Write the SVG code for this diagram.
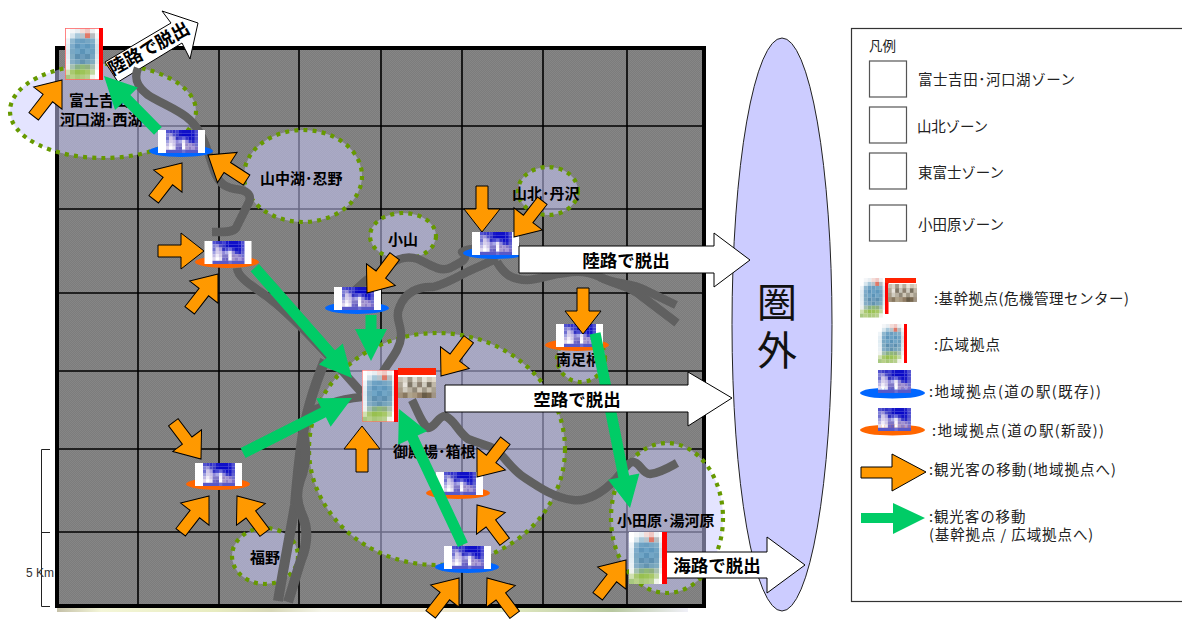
<svg xmlns="http://www.w3.org/2000/svg" xmlns:xlink="http://www.w3.org/1999/xlink" width="1182" height="619" viewBox="0 0 1182 619">
<style>
text{font-family:"Noto Sans CJK JP","Noto Sans",sans-serif;fill:#111}
.z{fill:#ccccff;fill-opacity:.52;stroke:#669900;stroke-width:4.2;stroke-dasharray:4 5.2}
.l{font-weight:700;font-size:15px;fill:#000}
.w{fill:#fff;stroke:#000;stroke-width:1}
.wt{font-weight:700;font-size:17.5px;fill:#000;text-anchor:middle}
.o{fill:#ff9900;stroke:#000;stroke-width:1}
.g{fill:#00cc66}
.r{fill:none;stroke:#606060;stroke-width:8.5;stroke-linejoin:round}
.r2{stroke-width:10}
.grid{stroke:#000;stroke-width:1.6}
.t{font-size:14.5px;fill:#222}
.box{fill:#fff;stroke:#555;stroke-width:1.2}
.eb{fill:#0066ff}.eo{fill:#ff6600}
</style>
<defs>
<pattern id="dither" width="2" height="2" patternUnits="userSpaceOnUse"><rect width="2" height="2" fill="#7c7c7c"/><rect width="1" height="1" fill="#868686"/><rect x="1" y="1" width="1" height="1" fill="#868686"/></pattern>
<linearGradient id="strip" x1="0" x2="1" y1="0" y2="0">
<stop offset="0" stop-color="#c4c0a8"/><stop offset=".07" stop-color="#f4f6d8"/><stop offset=".25" stop-color="#e8ecc0"/><stop offset=".34" stop-color="#d8d8b8"/><stop offset=".42" stop-color="#f4f4e8"/><stop offset=".6" stop-color="#f0e8d0"/><stop offset=".72" stop-color="#e0e8c0"/><stop offset=".88" stop-color="#b8c8a0"/><stop offset="1" stop-color="#f0f0f8"/>
</linearGradient>
<g id="mosaic">
<rect x="0" y="0" width="3.300" height="3.400" fill="#5050d0"/><rect x="3.200" y="0" width="3.300" height="3.400" fill="#4040c8"/><rect x="6.400" y="0" width="3.300" height="3.400" fill="#3030c8"/><rect x="9.600" y="0" width="3.300" height="3.400" fill="#4040d0"/><rect x="12.800" y="0" width="3.300" height="3.400" fill="#1818c8"/><rect x="16" y="0" width="9.700" height="3.400" fill="#1010c8"/><rect x="25.600" y="0" width="3.300" height="3.400" fill="#2020c8"/><rect x="28.800" y="0" width="3.200" height="3.400" fill="#5050d0"/>
<rect x="0" y="3.300" width="3.300" height="3.400" fill="#8080d8"/><rect x="3.200" y="3.300" width="3.300" height="3.400" fill="#9890d8"/><rect x="6.400" y="3.300" width="3.300" height="3.400" fill="#5050c8"/><rect x="9.600" y="3.300" width="3.300" height="3.400" fill="#3838c8"/><rect x="12.800" y="3.300" width="3.300" height="3.400" fill="#1010c0"/><rect x="16" y="3.300" width="9.700" height="3.400" fill="#0808c8"/><rect x="25.600" y="3.300" width="3.300" height="3.400" fill="#1010c8"/><rect x="28.800" y="3.300" width="3.200" height="3.400" fill="#4848d0"/>
<rect x="0" y="6.600" width="3.300" height="3.400" fill="#7070d0"/><rect x="3.200" y="6.600" width="3.300" height="3.400" fill="#d0c8e8"/><rect x="6.400" y="6.600" width="3.300" height="3.400" fill="#a8a0e0"/><rect x="9.600" y="6.600" width="3.300" height="3.400" fill="#3030c0"/><rect x="12.800" y="6.600" width="3.300" height="3.400" fill="#4848d0"/><rect x="16" y="6.600" width="3.300" height="3.400" fill="#6868d8"/><rect x="19.200" y="6.600" width="3.300" height="3.400" fill="#3030c8"/><rect x="22.400" y="6.600" width="3.300" height="3.400" fill="#1010c8"/><rect x="25.600" y="6.600" width="3.300" height="3.400" fill="#1818c8"/><rect x="28.800" y="6.600" width="3.200" height="3.400" fill="#5050d0"/>
<rect x="0" y="9.900" width="3.300" height="3.400" fill="#a0a0e0"/><rect x="3.200" y="9.900" width="3.300" height="3.400" fill="#d8d0ec"/><rect x="6.400" y="9.900" width="3.300" height="3.400" fill="#c8c0e8"/><rect x="9.600" y="9.900" width="3.300" height="3.400" fill="#9088d8"/><rect x="12.800" y="9.900" width="3.300" height="3.400" fill="#a8a8e8"/><rect x="16" y="9.900" width="3.300" height="3.400" fill="#e8e4f4"/><rect x="19.200" y="9.900" width="3.300" height="3.400" fill="#9088d8"/><rect x="22.400" y="9.900" width="3.300" height="3.400" fill="#4040c8"/><rect x="25.600" y="9.900" width="3.300" height="3.400" fill="#2828c8"/><rect x="28.800" y="9.900" width="3.200" height="3.400" fill="#6060d0"/>
<rect x="0" y="13.200" width="3.300" height="3.400" fill="#c0b8e4"/><rect x="3.200" y="13.200" width="3.300" height="3.400" fill="#f0ecf8"/><rect x="6.400" y="13.200" width="3.300" height="3.400" fill="#d0c8e8"/><rect x="9.600" y="13.200" width="6.500" height="3.400" fill="#8078c8"/><rect x="16" y="13.200" width="3.300" height="3.400" fill="#f8f4fc"/><rect x="19.200" y="13.200" width="3.300" height="3.400" fill="#9888c8"/><rect x="22.400" y="13.200" width="3.300" height="3.400" fill="#a090d0"/><rect x="25.600" y="13.200" width="3.300" height="3.400" fill="#8878c8"/><rect x="28.800" y="13.200" width="3.200" height="3.400" fill="#7070d0"/>
<rect x="0" y="16.500" width="3.300" height="3.400" fill="#e0d8ee"/><rect x="3.200" y="16.500" width="3.300" height="3.400" fill="#fff"/><rect x="6.400" y="16.500" width="3.300" height="3.400" fill="#e8e4f2"/><rect x="9.600" y="16.500" width="3.300" height="3.400" fill="#7068c8"/><rect x="12.800" y="16.500" width="3.300" height="3.400" fill="#6860c0"/><rect x="16" y="16.500" width="3.300" height="3.400" fill="#fff"/><rect x="19.200" y="16.500" width="3.300" height="3.400" fill="#a898cc"/><rect x="22.400" y="16.500" width="3.300" height="3.400" fill="#9080c8"/><rect x="25.600" y="16.500" width="3.300" height="3.400" fill="#a898d8"/><rect x="28.800" y="16.500" width="3.200" height="3.400" fill="#8070c8"/>
<rect x="0" y="19.800" width="32" height="3.200" fill="#5858c8"/><rect x="16" y="19.800" width="3.300" height="3.200" fill="#7070d0"/>
</g>
<g id="st"><rect width="47" height="23" fill="#fff"/><use xlink:href="#mosaic" href="#mosaic" x="8"/></g>
<g id="tw">
<rect width="34" height="52" fill="#fff"/>
<rect x="5" y="0" width="5" height="5.300" fill="#f4f6f8"/><rect x="10" y="0" width="5" height="5.300" fill="#e8eef2"/><rect x="15" y="0" width="5" height="5.300" fill="#f4dcd8"/><rect x="20" y="0" width="5" height="5.300" fill="#f0c8c4"/><rect x="25" y="0" width="5" height="5.300" fill="#eef0f2"/>
<rect x="5" y="5.200" width="5" height="5.300" fill="#d8e6ee"/><rect x="10" y="5.200" width="5" height="5.300" fill="#a8c8da"/><rect x="15" y="5.200" width="5" height="5.300" fill="#b8c4cc"/><rect x="20" y="5.200" width="5" height="5.300" fill="#e07868"/><rect x="25" y="5.200" width="5" height="5.300" fill="#b8bcc0"/><rect x="30" y="5.200" width="4" height="5.300" fill="#f0f4f6"/>
<rect x="0" y="10.400" width="5" height="5.300" fill="#eef4f8"/><rect x="5" y="10.400" width="5" height="5.300" fill="#90b8d0"/><rect x="10" y="10.400" width="5" height="5.300" fill="#6ea2c4"/><rect x="15" y="10.400" width="5" height="5.300" fill="#6a9ec0"/><rect x="20" y="10.400" width="5" height="5.300" fill="#76a6c4"/><rect x="25" y="10.400" width="5" height="5.300" fill="#80aec8"/><rect x="30" y="10.400" width="4" height="5.300" fill="#e0eaf0"/>
<rect x="0" y="15.600" width="5" height="5.300" fill="#e4eef4"/><rect x="5" y="15.600" width="5" height="5.300" fill="#7eaccb"/><rect x="10" y="15.600" width="5" height="5.300" fill="#5f96bb"/><rect x="15" y="15.600" width="5" height="5.300" fill="#6ba2c6"/><rect x="20" y="15.600" width="5" height="5.300" fill="#5f98bd"/><rect x="25" y="15.600" width="5" height="5.300" fill="#70a4c4"/><rect x="30" y="15.600" width="4" height="5.300" fill="#d4e2ea"/>
<rect x="0" y="20.800" width="5" height="5.300" fill="#e0ecf2"/><rect x="5" y="20.800" width="5" height="5.300" fill="#7aa8c4"/><rect x="10" y="20.800" width="5" height="5.300" fill="#6fa5c6"/><rect x="15" y="20.800" width="5" height="5.300" fill="#5c94b8"/><rect x="20" y="20.800" width="5" height="5.300" fill="#72a6c6"/><rect x="25" y="20.800" width="5" height="5.300" fill="#6c9fbe"/><rect x="30" y="20.800" width="4" height="5.300" fill="#d4e2ea"/>
<rect x="0" y="26" width="5" height="5.300" fill="#e4eef4"/><rect x="5" y="26" width="5" height="5.300" fill="#80acc4"/><rect x="10" y="26" width="5" height="5.300" fill="#5e90b0"/><rect x="15" y="26" width="5" height="5.300" fill="#6c9cbc"/><rect x="20" y="26" width="5" height="5.300" fill="#5e90b0"/><rect x="25" y="26" width="5" height="5.300" fill="#76a4c0"/><rect x="30" y="26" width="4" height="5.300" fill="#dce8ee"/>
<rect x="0" y="31.200" width="5" height="5.300" fill="#e8f0f4"/><rect x="5" y="31.200" width="5" height="5.300" fill="#86aec6"/><rect x="10" y="31.200" width="5" height="5.300" fill="#74a2bc"/><rect x="15" y="31.200" width="5" height="5.300" fill="#6494b0"/><rect x="20" y="31.200" width="5" height="5.300" fill="#76a4bc"/><rect x="25" y="31.200" width="5" height="5.300" fill="#80acc0"/><rect x="30" y="31.200" width="4" height="5.300" fill="#e4ecf0"/>
<rect x="0" y="36.400" width="5" height="5.300" fill="#eef2ee"/><rect x="5" y="36.400" width="5" height="5.300" fill="#a4c0b0"/><rect x="10" y="36.400" width="5" height="5.300" fill="#88b088"/><rect x="15" y="36.400" width="5" height="5.300" fill="#90b878"/><rect x="20" y="36.400" width="5" height="5.300" fill="#90b080"/><rect x="25" y="36.400" width="5" height="5.300" fill="#a8c0b0"/><rect x="30" y="36.400" width="4" height="5.300" fill="#f0f4f4"/>
<rect x="0" y="41.600" width="5" height="5.300" fill="#d0e0b0"/><rect x="5" y="41.600" width="5" height="5.300" fill="#a8c870"/><rect x="10" y="41.600" width="5" height="5.300" fill="#98c050"/><rect x="15" y="41.600" width="5" height="5.300" fill="#9cc458"/><rect x="20" y="41.600" width="5" height="5.300" fill="#a8c868"/><rect x="25" y="41.600" width="5" height="5.300" fill="#c0d8a0"/>
<rect x="0" y="46.800" width="5" height="5.200" fill="#a8c880"/><rect x="5" y="46.800" width="5" height="5.200" fill="#b8d088"/><rect x="10" y="46.800" width="5" height="5.200" fill="#a8c878"/><rect x="15" y="46.800" width="5" height="5.200" fill="#b0cc80"/><rect x="20" y="46.800" width="5" height="5.200" fill="#b8d090"/><rect x="25" y="46.800" width="5" height="5.200" fill="#f0f4e8"/>
</g>
<g id="stone">
<rect width="38" height="21" fill="#a89c88"/>
<rect x="0" width="5" height="5.300" fill="#c8c0b0"/><rect x="4.800" width="5" height="5.300" fill="#d8d4c8"/><rect x="9.600" width="5" height="5.300" fill="#a09888"/><rect x="14.400" width="5" height="5.300" fill="#e0dcd0"/><rect x="19.200" width="5" height="5.300" fill="#b8b0a0"/><rect x="24" width="5" height="5.300" fill="#e8e4d8"/><rect x="28.800" width="5" height="5.300" fill="#d0c8b8"/><rect x="33.600" width="4.400" height="5.300" fill="#e0d8c8"/>
<rect x="0" y="5.200" width="5" height="5.300" fill="#b0a898"/><rect x="4.800" y="5.200" width="5" height="5.300" fill="#e8e4dc"/><rect x="9.600" y="5.200" width="5" height="5.300" fill="#807868"/><rect x="14.400" y="5.200" width="5" height="5.300" fill="#c8c4b8"/><rect x="19.200" y="5.200" width="5" height="5.300" fill="#8c8070"/><rect x="24" y="5.200" width="5" height="5.300" fill="#d0ccc0"/><rect x="28.800" y="5.200" width="5" height="5.300" fill="#787060"/><rect x="33.600" y="5.200" width="4.400" height="5.300" fill="#c0b8a8"/>
<rect x="4.800" y="10.400" width="5" height="5.300" fill="#d0ccc0"/><rect x="9.600" y="10.400" width="5" height="5.300" fill="#b8b0a0"/><rect x="14.400" y="10.400" width="5" height="5.300" fill="#908878"/><rect x="19.200" y="10.400" width="5" height="5.300" fill="#d0c8b8"/><rect x="24" y="10.400" width="5" height="5.300" fill="#a09888"/><rect x="28.800" y="10.400" width="5" height="5.300" fill="#c8c0b0"/><rect x="33.600" y="10.400" width="4.400" height="5.300" fill="#a8a090"/>
<rect x="0" y="15.600" width="5" height="5.400" fill="#a09078"/><rect x="4.800" y="15.600" width="5" height="5.400" fill="#887860"/><rect x="9.600" y="15.600" width="5" height="5.400" fill="#b0a48c"/><rect x="14.400" y="15.600" width="5" height="5.400" fill="#a89880"/><rect x="19.200" y="15.600" width="5" height="5.400" fill="#907c64"/><rect x="24" y="15.600" width="5" height="5.400" fill="#685c48"/><rect x="28.800" y="15.600" width="5" height="5.400" fill="#786850"/><rect x="33.600" y="15.600" width="4.400" height="5.400" fill="#a09484"/>
</g>
<path id="oa" class="o" d="M0 0L-23-18V-6H-46V6H-23V18Z"/>
</defs>

<rect width="1182" height="619" fill="#fff"/>

<g id="outside"><ellipse cx="782" cy="324.500" rx="50" ry="286.500" fill="#ccccff" stroke="#222" stroke-width="1"/>
<text style="font-size:40px;text-anchor:middle;fill:#111"><tspan x="777" y="317">圏</tspan><tspan x="777" y="365">外</tspan></text>
</g>

<g id="map">
<rect x="57" y="48" width="647" height="558" fill="url(#dither)"/>
<g class="grid">
<path d="M138 48V606M219 48V606M299 48V606M381 48V606M462 48V606M543 48V606M627 48V606M57 126H704M57 209H704M57 293H704M57 371H704M57 449H704M57 532H704"/>
</g>
<rect x="57" y="48" width="647" height="558" fill="none" stroke="#000" stroke-width="4"/>
<rect x="57" y="608" width="631" height="4" fill="url(#strip)"/>
</g>

<g id="scale" fill="none" stroke="#222" stroke-width="1">
<path d="M50 449.500H41.500V606.500H50M41.500 532.500H50"/>
</g>
<text x="26" y="577" style="font-family:'Liberation Sans',sans-serif;font-size:12.500px;fill:#333" textLength="28" lengthAdjust="spacingAndGlyphs">5 Km</text>

<g id="zones">
<ellipse id="zone-fuji" class="z" cx="103" cy="111" rx="93" ry="47"/>
<ellipse id="zone-yamanaka" class="z" cx="303" cy="176" rx="59" ry="46"/>
<ellipse id="zone-sanpoku" class="z" cx="548" cy="191" rx="30" ry="24"/>
<ellipse id="zone-koyama" class="z" cx="403" cy="236" rx="33" ry="23"/>
<ellipse id="zone-gotemba" class="z" cx="437" cy="449" rx="128" ry="116"/>
<ellipse id="zone-minami" class="z" cx="581" cy="358" rx="24" ry="24"/>
<ellipse id="zone-odawara" class="z" cx="667" cy="518" rx="56" ry="75"/>
<ellipse id="zone-fukuno" class="z" cx="265" cy="556" rx="33" ry="28"/>
</g>

<g id="zone-labels">
<text class="l" x="69" y="106">富士吉田</text>
<text class="l" x="60" y="125">河口湖･西湖</text>
<text class="l" x="260" y="184">山中湖･忍野</text>
<text class="l" x="512" y="199">山北･丹沢</text>
<text class="l" x="388" y="245">小山</text>
<text class="l" x="556" y="365">南足柄</text>
<text class="l" x="393" y="457">御殿場･箱根</text>
<text class="l" x="617" y="526">小田原･湯河原</text>
<text class="l" x="250" y="563">福野</text>
</g>

<g id="exit-north"><path class="w" d="M105 62L171 23L162 11L198 23L190 59L182 43L118 82Z"/>
<text class="wt" transform="translate(152 54) rotate(-29)" style="font-size:18px">陸路で脱出</text></g>

<g id="connectors">
<g id="roads">
<path class="r" d="M138 68C134 78 136 86 148 95C160 103 180 110 190 120C203 132 207 150 213 167C217 180 222 187 235 189C246 190 252 194 249 202C244 212 239 222 236 228C232 233 222 232 212 232"/>
<path class="r" d="M237 268C238 276 246 282 262 293C290 312 325 352 362 393"/>
<path class="r" d="M362 397C350 398 340 400 328 404L310 412"/>
<path class="r r2" d="M325 360C316 382 306 410 302 440C299 460 297 480 295 505C290 535 283 570 278 601"/>
<path class="r r2" d="M303 433C307 450 306 465 300 480C296 492 296 502 302 515C309 530 307 545 301 560C296 575 292 590 288 602"/>
<path class="r" d="M383 372C390 360 400 350 401 337C402 325 394 318 400 306C405 293 418 286 433 287C445 284 455 278 467 272C480 266 490 262 497 258"/>
<path class="r" d="M497 262C503 272 510 280 527 280C540 280 550 274 565 273C580 270 590 272 600 277C615 285 630 282 645 290L676 305"/>
<path class="r" d="M600 277C615 285 628 285 640 295L677 323"/>
<path class="r" d="M345 300C360 285 372 274 385 269C395 259 405 255 418 259C430 265 440 272 450 268C462 262 470 258 462 252C470 247 485 249 520 247"/>
<path class="r" d="M412 400C418 412 422 424 428 428C435 428 438 416 445 416C455 420 458 432 468 439C480 444 488 445 495 449C506 458 512 470 525 478C540 488 555 498 573 500C590 502 605 490 615 480C622 472 628 462 633 462C640 462 642 474 650 474C660 473 668 468 677 463"/>
</g>
<g id="green-arrows">
<path class="g" transform="translate(104 76) rotate(-134.500)" d="M0 0L-32-16V-5.500H-77V5.500H-32V16Z"/>
<path class="g" transform="translate(352 378) rotate(48.600)" d="M0 0L-32-16V-5.500H-147V5.500H-32V16Z"/>
<path class="g" transform="translate(371 361) rotate(90)" d="M0 0L-32-16V-5.500H-46V5.500H-32V16Z"/>
<path class="g" transform="translate(352 398) rotate(-26.800)" d="M0 0L-32-16V-5.500H-122V5.500H-32V16Z"/>
</g>
</g>

<g id="node-station-1"><ellipse class="eb" cx="181" cy="151" rx="32" ry="6"/><use xlink:href="#st" href="#st" x="158" y="130"/></g>
<g id="node-station-2"><ellipse class="eo" cx="227" cy="262" rx="32" ry="6"/><use xlink:href="#st" href="#st" x="204.500" y="241"/></g>
<g id="node-station-3"><ellipse class="eb" cx="357" cy="308" rx="32" ry="6"/><use xlink:href="#st" href="#st" x="334" y="287"/></g>
<g id="node-station-4"><ellipse class="eb" cx="495" cy="253" rx="32" ry="6"/><use xlink:href="#st" href="#st" x="472" y="232"/></g>
<g id="node-station-5"><ellipse class="eo" cx="577" cy="345" rx="32" ry="6"/><use xlink:href="#st" href="#st" x="556" y="324"/></g>
<g id="node-station-6"><ellipse class="eo" cx="218" cy="484" rx="32" ry="6"/><use xlink:href="#st" href="#st" x="195" y="463"/></g>
<g id="node-station-7"><ellipse class="eo" cx="458" cy="493" rx="32" ry="6"/><use xlink:href="#st" href="#st" x="436" y="472"/></g>
<g id="node-station-8"><ellipse class="eb" cx="467" cy="567" rx="32" ry="6"/><use xlink:href="#st" href="#st" x="444" y="546"/></g>

<g id="arrows-late">
<path class="g" transform="translate(399 409) rotate(-115.200)" d="M0 0L-32-16V-5.500H-150V5.500H-32V16Z"/>
<path class="g" transform="translate(630 508) rotate(78.700)" d="M0 0L-32-16V-5.500H-178V5.500H-32V16Z"/>
</g>

<g id="exit-east1"><path class="w" d="M519 246H714V233L750 260L714 287V273H519Z"/><text class="wt" x="626" y="267">陸路で脱出</text></g>
<g id="exit-air"><path class="w" d="M445 385H688V372L732 398L688 426V412H445Z"/><text class="wt" x="577" y="406">空路で脱出</text></g>
<g id="exit-sea"><path class="w" d="M660 552H767V537L805 565L767 593V578H660Z"/><text class="wt" x="717" y="572">海路で脱出</text></g>

<g id="node-tower-fuji"><use xlink:href="#tw" href="#tw" x="65" y="28"/><rect x="65.500" y="28.500" width="37" height="51" fill="none" stroke="#f66" stroke-width=".8"/><rect x="99" y="28" width="4" height="52" fill="#f00"/></g>
<g id="node-tower-gotemba"><use xlink:href="#tw" href="#tw" x="362" y="370"/><rect x="362.300" y="370.300" width="33" height="51" fill="none" stroke="#f66" stroke-width=".6"/><rect x="394" y="370" width="4" height="52" fill="#f00"/>
<rect x="398" y="368" width="38" height="7" fill="#ff2200"/><rect x="398" y="375" width="38" height="23" fill="#fff"/><use xlink:href="#stone" href="#stone" x="398" y="377"/></g>
<g id="node-tower-odawara"><use xlink:href="#tw" href="#tw" x="629" y="532"/><rect x="662" y="532" width="5" height="52" fill="#f00"/></g>

<g id="orange-arrows">
<use xlink:href="#oa" href="#oa" transform="translate(62 80) rotate(-52)"/>
<use xlink:href="#oa" href="#oa" transform="translate(182 163) rotate(-52)"/>
<use xlink:href="#oa" href="#oa" transform="translate(208 155) rotate(-147)"/>
<use xlink:href="#oa" href="#oa" transform="translate(204 251)"/>
<use xlink:href="#oa" href="#oa" transform="translate(218 274) rotate(-52)"/>
<use xlink:href="#oa" href="#oa" transform="translate(482 232) rotate(90)"/>
<use xlink:href="#oa" href="#oa" transform="translate(514 237) rotate(128)"/>
<use xlink:href="#oa" href="#oa" transform="translate(367 293) rotate(127)"/>
<use xlink:href="#oa" href="#oa" transform="translate(583 334) rotate(90)"/>
<use xlink:href="#oa" href="#oa" transform="translate(441 376) rotate(127)"/>
<use xlink:href="#oa" href="#oa" transform="translate(362 426) rotate(-90)"/>
<use xlink:href="#oa" href="#oa" transform="translate(201 459) rotate(53)"/>
<use xlink:href="#oa" href="#oa" transform="translate(209 496) rotate(-52)"/>
<use xlink:href="#oa" href="#oa" transform="translate(237 496) rotate(-127)"/>
<use xlink:href="#oa" href="#oa" transform="translate(477 477) rotate(128)"/>
<use xlink:href="#oa" href="#oa" transform="translate(477 505) rotate(-127)"/>
<use xlink:href="#oa" href="#oa" transform="translate(459 578) rotate(-52)"/>
<use xlink:href="#oa" href="#oa" transform="translate(487 578) rotate(-127)"/>
<use xlink:href="#oa" href="#oa" transform="translate(626 560) rotate(-52)"/>
</g>

<g id="legend">
<rect x="851.500" y="28.500" width="340" height="573" fill="none" stroke="#333" stroke-width="1.200"/>
<text class="t" x="869" y="51" style="font-size:13.500px">凡例</text>
<rect class="box" x="869.500" y="61" width="37" height="36"/>
<rect class="box" x="869.500" y="107" width="37" height="36"/>
<rect class="box" x="869.500" y="153" width="37" height="36"/>
<rect class="box" x="869.500" y="205" width="37" height="36"/>
<text class="t" x="918" y="85" textLength="157">富士吉田･河口湖ゾーン</text>
<text class="t" x="917" y="132" textLength="71">山北ゾーン</text>
<text class="t" x="918" y="178" textLength="86">東富士ゾーン</text>
<text class="t" x="918" y="230" textLength="86">小田原ゾーン</text>
<g id="legend-core">
<use xlink:href="#tw" href="#tw" transform="translate(860 278) scale(.76)"/>
<rect x="885" y="278" width="3.500" height="36" fill="#f00"/><rect x="885" y="278" width="31" height="5" fill="#ff2200"/>
<use xlink:href="#stone" href="#stone" transform="translate(888 284) scale(.76 .85)"/>
</g>
<text class="t" x="934" y="304" textLength="195">:基幹拠点(危機管理センター)</text>
<g id="legend-wide"><use xlink:href="#tw" href="#tw" transform="translate(878 324) scale(.78 .75)"/><rect x="904" y="324" width="3" height="39" fill="#f00"/></g>
<text class="t" x="934" y="350" textLength="66">:広域拠点</text>
<g id="legend-st1"><ellipse class="eb" cx="892.500" cy="393" rx="32.500" ry="5.500"/><use xlink:href="#mosaic" href="#mosaic" transform="translate(878 370) scale(1.030 1)"/></g>
<text class="t" x="929" y="397" textLength="172">:地域拠点(道の駅(既存))</text>
<g id="legend-st2"><ellipse class="eo" cx="892.500" cy="430" rx="32.500" ry="5.500"/><use xlink:href="#mosaic" href="#mosaic" transform="translate(878 408) scale(1.030 1)"/></g>
<text class="t" x="932" y="436" textLength="172">:地域拠点(道の駅(新設))</text>
<path class="o" d="M861 467H892V454L926 472L892 491V478H861Z"/>
<text class="t" x="929" y="475" textLength="187">:観光客の移動(地域拠点へ)</text>
<path class="g" d="M861 513H893V503L925 518L893 534V523H861Z"/>
<text class="t" style="letter-spacing:.9px"><tspan x="929" y="522">:観光客の移動</tspan><tspan x="929" y="540">(基幹拠点 / 広域拠点へ)</tspan></text>
</g>
</svg>
